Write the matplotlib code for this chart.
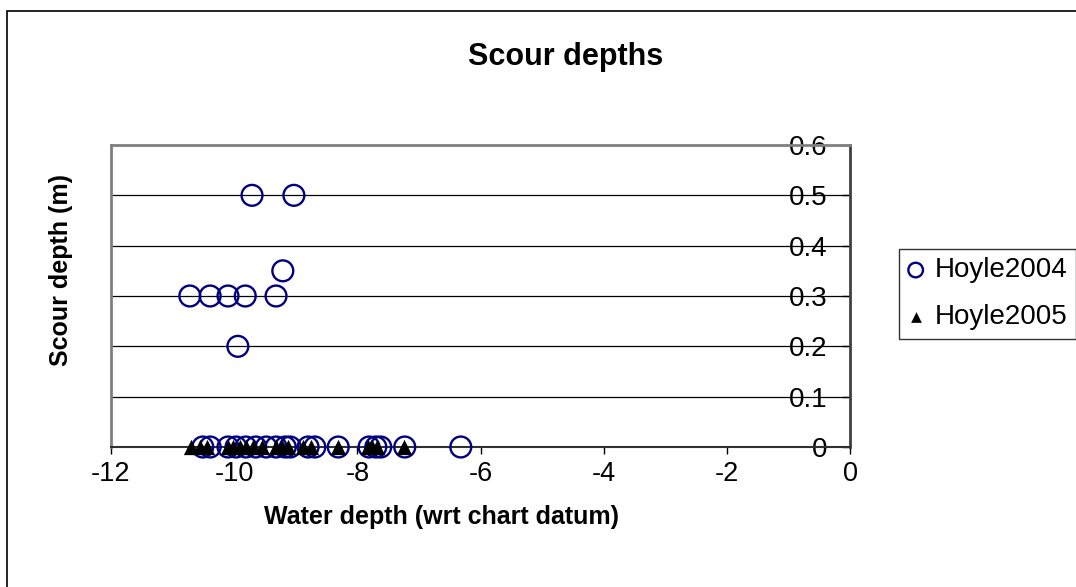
import matplotlib.pyplot as plt
from matplotlib.patches import Rectangle

# Hoyle2004 survey: water depth (wrt chart datum) and scour depth (m)
hoyle2004_depth = [
    -9.71, -9.03, -9.21, -10.72, -10.39, -10.10, -9.82, -9.32, -9.94,
    -10.51, -10.39, -10.10, -9.97, -9.81, -9.65, -9.48, -9.32, -9.17,
    -9.09, -8.80, -8.69, -8.31, -7.81, -7.70, -7.62, -7.23, -6.32,
]
hoyle2004_scour = [
    0.5, 0.5, 0.35, 0.3, 0.3, 0.3, 0.3, 0.3, 0.2,
    0, 0, 0, 0, 0, 0, 0, 0, 0,
    0, 0, 0, 0, 0, 0, 0, 0, 0,
]

# Hoyle2005 survey
hoyle2005_depth = [
    -10.70, -10.55, -10.44, -10.10, -10.02, -9.91, -9.81, -9.69, -9.55,
    -9.32, -9.22, -9.13, -8.88, -8.75, -8.31, -7.83, -7.76, -7.68, -7.24,
]
hoyle2005_scour = [0] * len(hoyle2005_depth)

x_ticks = [-12, -10, -8, -6, -4, -2, 0]
y_ticks = [0, 0.1, 0.2, 0.3, 0.4, 0.5, 0.6]

plt.rcParams["font.family"] = ["Liberation Sans", "DejaVu Sans"]

W, H = 1076, 587
fig = plt.figure(figsize=(W / 100, H / 100), dpi=100)
ax = fig.add_axes([111 / W, 1 - 447 / H, (850 - 111) / W, (447 - 145) / H])

# outer chart border (right/bottom run off the picture)
fig.patches.append(Rectangle((7 / W, -0.05), 1.1, 1 - 11 / H + 0.05,
                             transform=fig.transFigure, fill=False,
                             edgecolor="black", linewidth=1.2, clip_on=False))

ax.scatter(hoyle2004_depth, hoyle2004_scour, s=15 ** 2, marker="o",
           facecolors="none", edgecolors="#000080", linewidths=1.7,
           label="Hoyle2004", zorder=3, clip_on=False)
ax.scatter(hoyle2005_depth, hoyle2005_scour, s=11 ** 2, marker="^",
           color="black", linewidths=0, label="Hoyle2005", zorder=4,
           clip_on=False)

ax.set_xlim(-12, 0)
ax.set_ylim(0, 0.6)
ax.set_xticks(x_ticks)
ax.set_xticklabels([str(v) for v in x_ticks])
ax.set_yticks(y_ticks)
ax.set_yticklabels(["0" if v == 0 else f"{v:.1f}" for v in y_ticks])

ax.grid(axis="y", color="black", linewidth=0.9)
ax.set_axisbelow(True)

for side in ("left", "top"):
    ax.spines[side].set_color("#808080")
    ax.spines[side].set_linewidth(2)
ax.spines["right"].set_color("#404040")
ax.spines["right"].set_linewidth(2)
ax.spines["bottom"].set_color("#303030")
ax.spines["bottom"].set_linewidth(1.5)

ax.tick_params(axis="x", direction="out", length=5, width=1, labelsize=19.5,
               pad=5)
ax.tick_params(axis="y", left=False, labelleft=False, right=True,
               labelright=True, direction="in", length=6, width=1,
               labelsize=20, pad=-16)
for lab in ax.get_yticklabels():
    lab.set_horizontalalignment("right")

ax.set_xlabel("Water depth (wrt chart datum)", fontsize=18,
              fontweight="bold", labelpad=13)
ax.xaxis.label.set_x((441 - 111) / (850 - 111))
ax.set_ylabel("Scour depth (m)", fontsize=18, fontweight="bold")
ax.yaxis.set_label_position("left")
ax.yaxis.set_label_coords((73 - 111) / (850 - 111), (447 - 270) / (447 - 145))

fig.text(566 / W, 1 - 57 / H, "Scour depths", fontsize=22, fontweight="bold",
         ha="center", va="center")

leg = ax.legend(loc="upper left", bbox_to_anchor=(899 / W, 1 - 249 / H),
                bbox_transform=fig.transFigure, fontsize=20, frameon=True,
                fancybox=False, edgecolor="black", borderpad=0.3,
                handletextpad=0.4, handlelength=0.6, labelspacing=0.75,
                markerscale=0.7, borderaxespad=0)
leg.get_frame().set_linewidth(1)

fig.savefig("out.png", dpi=100)
